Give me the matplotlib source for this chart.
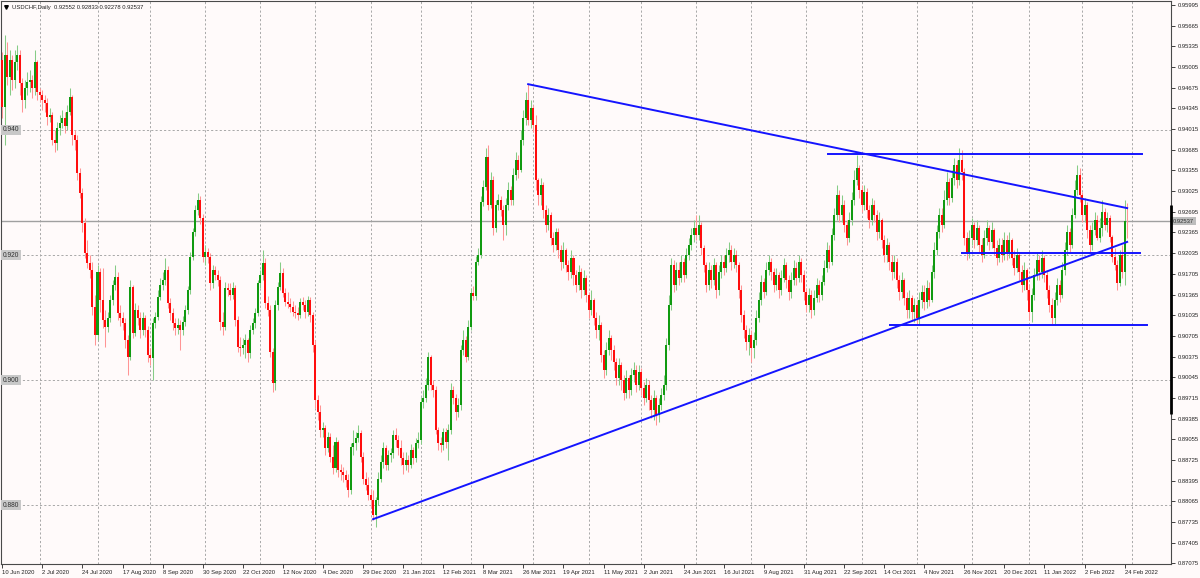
import matplotlib
matplotlib.use("Agg")
import matplotlib.pyplot as plt
import matplotlib.transforms as mtransforms
import numpy as np
import pandas as pd

plt.rcParams["font.family"] = ["Liberation Sans", "DejaVu Sans"]

symbol = "USDCHF,Daily"
last_ohlc = [0.92552, 0.92833, 0.92278, 0.92537]

# daily candles, 10 Jun 2020 .. 25 Feb 2022 (open = previous close)
first_open = 0.9512
closes = [
    0.9437, 0.9520, 0.9485, 0.9512, 0.9480, 0.9509, 0.9520, 0.9475, 0.9448, 0.9467,
    0.9477, 0.9480, 0.9467, 0.9509, 0.9461, 0.9456, 0.9448, 0.9443, 0.9421, 0.9424,
    0.9384, 0.9379, 0.9403, 0.9411, 0.9419, 0.9406, 0.9429, 0.9453, 0.9392, 0.9384,
    0.9331, 0.9299, 0.9251, 0.9203, 0.9187, 0.9176, 0.9117, 0.9072, 0.9173, 0.9128,
    0.9096, 0.9085, 0.9099, 0.9128, 0.9152, 0.9165, 0.9107, 0.9099, 0.9091, 0.9064,
    0.9037, 0.9149, 0.9075, 0.9112, 0.9099, 0.9080, 0.9099, 0.9080, 0.9040, 0.9035,
    0.9091, 0.9101, 0.9133, 0.9152, 0.9160, 0.9176, 0.9123, 0.9107, 0.9091, 0.9083,
    0.9088, 0.9080, 0.9093, 0.9112, 0.9144, 0.9197, 0.9237, 0.9272, 0.9288, 0.9259,
    0.9197, 0.9205, 0.9197, 0.9155, 0.9176, 0.9168, 0.9160, 0.9093, 0.9085, 0.9147,
    0.9144, 0.9136, 0.9147, 0.9096, 0.9053, 0.9051, 0.9056, 0.9064, 0.9043, 0.9080,
    0.9091, 0.9107, 0.9155, 0.9168, 0.9187, 0.9123, 0.9112, 0.9045, 0.8995, 0.9120,
    0.9149, 0.9171, 0.9139, 0.9125, 0.9122, 0.9117, 0.9109, 0.9107, 0.9104, 0.9125,
    0.9120, 0.9109, 0.9128, 0.9104, 0.9056, 0.8968, 0.8949, 0.8920, 0.8923, 0.8891,
    0.8909, 0.8877, 0.8859, 0.8901, 0.8856, 0.8853, 0.8848, 0.8840, 0.8824, 0.8893,
    0.8899, 0.8907, 0.8915, 0.8877, 0.8843, 0.8832, 0.8816, 0.8808, 0.8784, 0.8808,
    0.8843, 0.8869, 0.8891, 0.8864, 0.8880, 0.8883, 0.8912, 0.8904, 0.8891, 0.8875,
    0.8864, 0.8872, 0.8864, 0.8888, 0.8875, 0.8899, 0.8904, 0.8965, 0.8971, 0.8992,
    0.9037, 0.8992, 0.8984, 0.8920, 0.8899, 0.8896, 0.8917, 0.8901, 0.8920, 0.8984,
    0.8971, 0.8949, 0.8960, 0.9048, 0.9064, 0.9037, 0.9085, 0.9139, 0.9134, 0.9189,
    0.9200, 0.9285, 0.9309, 0.9357, 0.9280, 0.9320, 0.9243, 0.9280, 0.9288, 0.9272,
    0.9248, 0.9280, 0.9304, 0.9288, 0.9328, 0.9352, 0.9336, 0.9384, 0.9419, 0.9448,
    0.9416, 0.9435, 0.9408, 0.9320, 0.9296, 0.9312, 0.9272, 0.9248, 0.9264, 0.9227,
    0.9216, 0.9237, 0.9208, 0.9189, 0.9208, 0.9184, 0.9173, 0.9195, 0.9168, 0.9152,
    0.9173, 0.9144, 0.9163, 0.9136, 0.9112, 0.9128, 0.9099, 0.9080, 0.9088, 0.9040,
    0.9016, 0.9048, 0.9067, 0.9048, 0.9029, 0.9003, 0.9024, 0.9000, 0.8979, 0.9003,
    0.8984, 0.9008, 0.9016, 0.8992, 0.9013, 0.8987, 0.8971, 0.8992, 0.8968, 0.8952,
    0.8971, 0.8944, 0.8960, 0.8976, 0.8992, 0.9056, 0.9120, 0.9184, 0.9152, 0.9176,
    0.9163, 0.9189, 0.9168, 0.9200, 0.9216, 0.9232, 0.9243, 0.9232, 0.9248, 0.9211,
    0.9184, 0.9152, 0.9176, 0.9160, 0.9184, 0.9144, 0.9173, 0.9189, 0.9179, 0.9200,
    0.9208, 0.9189, 0.9200, 0.9184, 0.9144, 0.9104, 0.9080, 0.9061, 0.9072, 0.9051,
    0.9064, 0.9099, 0.9128, 0.9157, 0.9141, 0.9176, 0.9189, 0.9173, 0.9152, 0.9168,
    0.9144, 0.9163, 0.9184, 0.9160, 0.9141, 0.9160, 0.9179, 0.9163, 0.9189, 0.9168,
    0.9141, 0.9120, 0.9136, 0.9112, 0.9131, 0.9152, 0.9136, 0.9157, 0.9179, 0.9208,
    0.9189, 0.9232, 0.9264, 0.9296, 0.9264, 0.9280, 0.9248, 0.9227, 0.9256, 0.9288,
    0.9320, 0.9339, 0.9304, 0.9280, 0.9301, 0.9272, 0.9256, 0.9280, 0.9264, 0.9237,
    0.9256, 0.9224, 0.9200, 0.9216, 0.9189, 0.9173, 0.9189, 0.9160, 0.9141, 0.9160,
    0.9131, 0.9112, 0.9131, 0.9109, 0.9120, 0.9099, 0.9128, 0.9141, 0.9125, 0.9147,
    0.9128, 0.9173, 0.9208, 0.9237, 0.9264, 0.9248, 0.9288, 0.9317, 0.9291, 0.9323,
    0.9344, 0.9320, 0.9352, 0.9333, 0.9227, 0.9205, 0.9227, 0.9248, 0.9224, 0.9243,
    0.9216, 0.9200, 0.9227, 0.9243, 0.9221, 0.9240, 0.9211, 0.9195, 0.9216, 0.9200,
    0.9224, 0.9205, 0.9224, 0.9195, 0.9179, 0.9200, 0.9173, 0.9152, 0.9176, 0.9144,
    0.9109, 0.9136, 0.9168, 0.9192, 0.9173, 0.9195, 0.9168, 0.9144, 0.9120, 0.9099,
    0.9128, 0.9152, 0.9136, 0.9176, 0.9208, 0.9237, 0.9216, 0.9264, 0.9304, 0.9328,
    0.9296, 0.9264, 0.9280, 0.9240, 0.9216, 0.9240, 0.9256, 0.9227, 0.9243, 0.9269,
    0.9248, 0.9259, 0.9229, 0.9197, 0.9184, 0.9155, 0.9200, 0.9173, 0.92552, 0.92537,
]
highs = [
    0.9525, 0.9552, 0.9541, 0.9528, 0.9520, 0.9528, 0.9536, 0.9528, 0.9483, 0.9480,
    0.9493, 0.9496, 0.9488, 0.9528, 0.9512, 0.9467, 0.9464, 0.9456, 0.9451, 0.9435,
    0.9429, 0.9400, 0.9413, 0.9424, 0.9432, 0.9429, 0.9440, 0.9467, 0.9456, 0.9400,
    0.9392, 0.9339, 0.9307, 0.9259, 0.9224, 0.9200, 0.9189, 0.9136, 0.9184, 0.9179,
    0.9179, 0.9112, 0.9109, 0.9136, 0.9160, 0.9184, 0.9173, 0.9120, 0.9109, 0.9099,
    0.9072, 0.9160, 0.9152, 0.9123, 0.9120, 0.9109, 0.9109, 0.9104, 0.9086, 0.9051,
    0.9099, 0.9109, 0.9144, 0.9163, 0.9173, 0.9195, 0.9182, 0.9131, 0.9115, 0.9099,
    0.9099, 0.9096, 0.9102, 0.9120, 0.9150, 0.9205, 0.9243, 0.9280, 0.9299, 0.9294,
    0.9266, 0.9216, 0.9211, 0.9203, 0.9184, 0.9182, 0.9176, 0.9166, 0.9109, 0.9157,
    0.9155, 0.9155, 0.9157, 0.9152, 0.9102, 0.9069, 0.9067, 0.9074, 0.9067, 0.9088,
    0.9099, 0.9115, 0.9160, 0.9176, 0.9208, 0.9195, 0.9134, 0.9120, 0.9051, 0.9128,
    0.9157, 0.9189, 0.9179, 0.9147, 0.9141, 0.9131, 0.9126, 0.9120, 0.9117, 0.9131,
    0.9133, 0.9128, 0.9134, 0.9133, 0.9109, 0.9064, 0.8976, 0.8960, 0.8933, 0.8928,
    0.8917, 0.8915, 0.8896, 0.8910, 0.8904, 0.8866, 0.8862, 0.8856, 0.8850, 0.8899,
    0.8920, 0.8917, 0.8928, 0.8920, 0.8885, 0.8853, 0.8846, 0.8827, 0.8824, 0.8814,
    0.8853, 0.8880, 0.8901, 0.8896, 0.8888, 0.8891, 0.8920, 0.8923, 0.8912, 0.8904,
    0.8885, 0.8885, 0.8880, 0.8898, 0.8894, 0.8907, 0.8917, 0.8974, 0.8984, 0.9003,
    0.9045, 0.9040, 0.9000, 0.8990, 0.8926, 0.8910, 0.8923, 0.8923, 0.8930, 0.8995,
    0.8990, 0.8978, 0.8971, 0.9056, 0.9080, 0.9070, 0.9096, 0.9147, 0.9150, 0.9198,
    0.9211, 0.9294, 0.9320, 0.9371, 0.9376, 0.9333, 0.9326, 0.9288, 0.9298, 0.9294,
    0.9280, 0.9291, 0.9317, 0.9310, 0.9339, 0.9365, 0.9360, 0.9400, 0.9432, 0.9461,
    0.9474, 0.9448, 0.9440, 0.9424, 0.9323, 0.9323, 0.9317, 0.9280, 0.9275, 0.9269,
    0.9237, 0.9243, 0.9243, 0.9216, 0.9221, 0.9211, 0.9192, 0.9208, 0.9200, 0.9176,
    0.9184, 0.9179, 0.9176, 0.9168, 0.9141, 0.9144, 0.9131, 0.9109, 0.9104, 0.9093,
    0.9048, 0.9061, 0.9080, 0.9072, 0.9056, 0.9035, 0.9035, 0.9029, 0.9008, 0.9016,
    0.9008, 0.9019, 0.9029, 0.9024, 0.9024, 0.9019, 0.8997, 0.9003, 0.9000, 0.8976,
    0.8984, 0.8976, 0.8971, 0.8987, 0.9008, 0.9067, 0.9136, 0.9195, 0.9192, 0.9189,
    0.9189, 0.9200, 0.9195, 0.9211, 0.9227, 0.9243, 0.9256, 0.9264, 0.9264, 0.9253,
    0.9216, 0.9189, 0.9189, 0.9184, 0.9195, 0.9189, 0.9184, 0.9200, 0.9200, 0.9211,
    0.9221, 0.9216, 0.9211, 0.9208, 0.9189, 0.9152, 0.9112, 0.9088, 0.9083, 0.9080,
    0.9077, 0.9112, 0.9141, 0.9168, 0.9163, 0.9189, 0.9200, 0.9195, 0.9179, 0.9179,
    0.9173, 0.9176, 0.9195, 0.9189, 0.9168, 0.9173, 0.9192, 0.9189, 0.9200, 0.9195,
    0.9176, 0.9147, 0.9147, 0.9144, 0.9144, 0.9163, 0.9160, 0.9168, 0.9192, 0.9221,
    0.9216, 0.9243, 0.9275, 0.9312, 0.9304, 0.9296, 0.9288, 0.9256, 0.9269, 0.9301,
    0.9336, 0.9360, 0.9344, 0.9312, 0.9312, 0.9307, 0.9280, 0.9291, 0.9288, 0.9272,
    0.9269, 0.9259, 0.9232, 0.9227, 0.9221, 0.9200, 0.9200, 0.9195, 0.9168, 0.9173,
    0.9163, 0.9141, 0.9144, 0.9136, 0.9131, 0.9128, 0.9141, 0.9152, 0.9152, 0.9160,
    0.9157, 0.9184, 0.9221, 0.9248, 0.9275, 0.9275, 0.9304, 0.9333, 0.9323, 0.9336,
    0.9355, 0.9352, 0.9371, 0.9368, 0.9339, 0.9237, 0.9240, 0.9259, 0.9253, 0.9256,
    0.9248, 0.9227, 0.9240, 0.9256, 0.9248, 0.9253, 0.9243, 0.9224, 0.9227, 0.9227,
    0.9237, 0.9232, 0.9237, 0.9227, 0.9208, 0.9211, 0.9205, 0.9184, 0.9189, 0.9179,
    0.9152, 0.9147, 0.9179, 0.9205, 0.9200, 0.9208, 0.9200, 0.9176, 0.9152, 0.9131,
    0.9141, 0.9163, 0.9160, 0.9189, 0.9221, 0.9248, 0.9243, 0.9275, 0.9320, 0.9344,
    0.9339, 0.9301, 0.9291, 0.9285, 0.9248, 0.9253, 0.9269, 0.9264, 0.9259, 0.9288,
    0.9275, 0.9269, 0.9264, 0.9232, 0.9211, 0.9192, 0.9208, 0.9216, 0.9288, 0.92833,
]
lows = [
    0.9419, 0.9376, 0.9472, 0.9456, 0.9464, 0.9467, 0.9496, 0.9456, 0.9429, 0.9435,
    0.9456, 0.9461, 0.9451, 0.9456, 0.9448, 0.9445, 0.9432, 0.9429, 0.9408, 0.9413,
    0.9376, 0.9365, 0.9368, 0.9392, 0.9403, 0.9395, 0.9400, 0.9424, 0.9376, 0.9368,
    0.9320, 0.9291, 0.9237, 0.9195, 0.9179, 0.9163, 0.9104, 0.9056, 0.9064, 0.9109,
    0.9083, 0.9053, 0.9077, 0.9093, 0.9120, 0.9144, 0.9096, 0.9086, 0.9080, 0.9051,
    0.9008, 0.9032, 0.9067, 0.9070, 0.9088, 0.9067, 0.9072, 0.9069, 0.9029, 0.9024,
    0.9000, 0.9083, 0.9096, 0.9128, 0.9144, 0.9152, 0.9115, 0.9096, 0.9080, 0.9072,
    0.9074, 0.9048, 0.9072, 0.9086, 0.9106, 0.9138, 0.9192, 0.9230, 0.9264, 0.9250,
    0.9189, 0.9184, 0.9187, 0.9144, 0.9147, 0.9160, 0.9150, 0.9080, 0.9072, 0.9080,
    0.9134, 0.9128, 0.9130, 0.9086, 0.9045, 0.9038, 0.9042, 0.9035, 0.9029, 0.9035,
    0.9074, 0.9083, 0.9102, 0.9147, 0.9160, 0.9115, 0.9102, 0.9037, 0.8981, 0.8984,
    0.9112, 0.9144, 0.9133, 0.9118, 0.9115, 0.9109, 0.9102, 0.9099, 0.9096, 0.9099,
    0.9112, 0.9099, 0.9102, 0.9093, 0.9045, 0.8955, 0.8936, 0.8910, 0.8910, 0.8880,
    0.8885, 0.8869, 0.8850, 0.8853, 0.8846, 0.8840, 0.8837, 0.8830, 0.8814, 0.8818,
    0.8880, 0.8888, 0.8901, 0.8869, 0.8834, 0.8824, 0.8808, 0.8798, 0.8776, 0.8766,
    0.8800, 0.8837, 0.8859, 0.8856, 0.8856, 0.8869, 0.8875, 0.8894, 0.8880, 0.8864,
    0.8850, 0.8856, 0.8853, 0.8859, 0.8866, 0.8869, 0.8891, 0.8898, 0.8955, 0.8965,
    0.8984, 0.8984, 0.8974, 0.8914, 0.8888, 0.8885, 0.8888, 0.8891, 0.8872, 0.8914,
    0.8962, 0.8936, 0.8942, 0.8952, 0.9040, 0.9029, 0.9032, 0.9080, 0.9128, 0.9128,
    0.9184, 0.9195, 0.9278, 0.9304, 0.9272, 0.9275, 0.9232, 0.9237, 0.9272, 0.9262,
    0.9224, 0.9232, 0.9272, 0.9280, 0.9280, 0.9320, 0.9323, 0.9333, 0.9376, 0.9408,
    0.9408, 0.9403, 0.9397, 0.9304, 0.9280, 0.9280, 0.9259, 0.9237, 0.9240, 0.9216,
    0.9205, 0.9208, 0.9195, 0.9176, 0.9179, 0.9173, 0.9160, 0.9163, 0.9152, 0.9141,
    0.9144, 0.9131, 0.9136, 0.9125, 0.9099, 0.9104, 0.9088, 0.9067, 0.9064, 0.9029,
    0.9003, 0.9008, 0.9040, 0.9032, 0.9016, 0.8992, 0.8992, 0.8984, 0.8968, 0.8971,
    0.8971, 0.8976, 0.8997, 0.8981, 0.8984, 0.8976, 0.8960, 0.8965, 0.8952, 0.8939,
    0.8936, 0.8928, 0.8933, 0.8952, 0.8968, 0.8984, 0.9048, 0.9112, 0.9141, 0.9144,
    0.9152, 0.9157, 0.9157, 0.9163, 0.9192, 0.9208, 0.9221, 0.9224, 0.9224, 0.9200,
    0.9173, 0.9141, 0.9144, 0.9147, 0.9152, 0.9131, 0.9136, 0.9163, 0.9168, 0.9173,
    0.9189, 0.9176, 0.9179, 0.9173, 0.9131, 0.9093, 0.9067, 0.9048, 0.9040, 0.9029,
    0.9035, 0.9056, 0.9093, 0.9120, 0.9131, 0.9136, 0.9168, 0.9160, 0.9141, 0.9144,
    0.9131, 0.9136, 0.9157, 0.9147, 0.9128, 0.9131, 0.9152, 0.9152, 0.9157, 0.9157,
    0.9128, 0.9109, 0.9109, 0.9099, 0.9104, 0.9125, 0.9125, 0.9128, 0.9152, 0.9173,
    0.9179, 0.9184, 0.9224, 0.9256, 0.9253, 0.9253, 0.9237, 0.9216, 0.9221, 0.9248,
    0.9280, 0.9312, 0.9291, 0.9269, 0.9272, 0.9259, 0.9243, 0.9248, 0.9253, 0.9224,
    0.9227, 0.9211, 0.9189, 0.9189, 0.9176, 0.9160, 0.9163, 0.9147, 0.9128, 0.9131,
    0.9120, 0.9099, 0.9099, 0.9096, 0.9093, 0.9088, 0.9088, 0.9115, 0.9112, 0.9115,
    0.9118, 0.9125, 0.9163, 0.9200, 0.9227, 0.9237, 0.9243, 0.9280, 0.9280, 0.9285,
    0.9312, 0.9307, 0.9312, 0.9320, 0.9216, 0.9192, 0.9195, 0.9216, 0.9211, 0.9216,
    0.9205, 0.9189, 0.9195, 0.9216, 0.9208, 0.9211, 0.9200, 0.9184, 0.9189, 0.9189,
    0.9192, 0.9192, 0.9195, 0.9184, 0.9168, 0.9173, 0.9160, 0.9141, 0.9144, 0.9128,
    0.9096, 0.9093, 0.9128, 0.9160, 0.9160, 0.9163, 0.9157, 0.9131, 0.9109, 0.9088,
    0.9088, 0.9120, 0.9125, 0.9131, 0.9168, 0.9200, 0.9205, 0.9211, 0.9259, 0.9296,
    0.9285, 0.9253, 0.9253, 0.9227, 0.9205, 0.9208, 0.9232, 0.9224, 0.9221, 0.9230,
    0.9240, 0.9237, 0.9221, 0.9189, 0.9176, 0.9144, 0.9150, 0.9163, 0.9152, 0.92278,
]

# broker calendar: weekdays, two closed days, a few extra sunday bars
holidays = ["2020-12-25", "2021-01-01"]
sunday_bars = ["2020-11-01", "2021-03-14", "2021-03-21", "2021-10-31"]

date_labels = [
    "10 Jun 2020", "2 Jul 2020", "24 Jul 2020", "17 Aug 2020", "8 Sep 2020",
    "30 Sep 2020", "22 Oct 2020", "12 Nov 2020", "4 Dec 2020", "29 Dec 2020",
    "21 Jan 2021", "12 Feb 2021", "8 Mar 2021", "26 Mar 2021", "19 Apr 2021",
    "11 May 2021", "2 Jun 2021", "24 Jun 2021", "16 Jul 2021", "9 Aug 2021",
    "31 Aug 2021", "22 Sep 2021", "14 Oct 2021", "4 Nov 2021", "26 Nov 2021",
    "20 Dec 2021", "11 Jan 2022", "2 Feb 2022", "24 Feb 2022",
]
price_ticks = [
    0.95995, 0.95665, 0.95335, 0.95005, 0.94675, 0.94345, 0.94015, 0.93685,
    0.93355, 0.93025, 0.92695, 0.92365, 0.92035, 0.91705, 0.91365, 0.91035,
    0.90705, 0.90375, 0.90045, 0.89715, 0.89385, 0.89055, 0.88725, 0.88395,
    0.88065, 0.87735, 0.87405, 0.87075,
]
grid_prices = [0.940, 0.920, 0.900, 0.880]

# drawn objects: (bar, price) end points
resistance = [(209.9, 0.9473), (449.0, 0.9275)]
support = [(148.0, 0.8778), (449.0, 0.9221)]
# horizontal levels: (price, from bar, to bar)
levels = [(0.9362, 329.6, 455.0), (0.9203, 383.1, 454.0), (0.9088, 354.4, 457.0)]

bg = "#fffafa"
grid_col = "#a8a8a8"
up_body, dn_body = "#109a10", "#ff0d0d"
up_wick, dn_wick = "#86cc86", "#ff9494"
line_blue = "#1414ff"

closes = np.array(closes)
highs = np.array(highs)
lows = np.array(lows)
opens = np.r_[first_open, closes[:-1]]
x = np.arange(len(closes))
up = closes >= opens

days = pd.bdate_range("2020-06-10", "2022-02-25")
days = days.drop(pd.to_datetime(holidays)).union(pd.to_datetime(sunday_bars))
future = pd.bdate_range("2022-02-28", "2022-03-31")
all_days = days.append(future)
month_starts = np.flatnonzero(np.diff(all_days.month) != 0) + 1

fig = plt.figure(figsize=(12, 5.78), dpi=100, facecolor=bg)
ax = fig.add_axes([1 / 1200, 14 / 578, 1170 / 1200, 563 / 578])
ax.set_facecolor(bg)
ax.set_xlim(-0.52, 466.5)
ax.set_ylim(0.87064, 0.96059)

dash = (0, (2.2, 2.2))
for p in grid_prices:
    ax.axhline(p, color=grid_col, lw=0.7, ls=dash, zorder=0.5)
for m in month_starts:
    ax.axvline(m, color=grid_col, lw=0.7, ls=dash, zorder=0.5)

ax.axhline(last_ohlc[3], color="#a0a0a0", lw=1.0, zorder=0.8)

# candles
ax.vlines(x[up], lows[up], highs[up], color=up_wick, lw=0.75, zorder=2)
ax.vlines(x[~up], lows[~up], highs[~up], color=dn_wick, lw=0.75, zorder=2)
ax.bar(x[up], closes[up] - opens[up], bottom=opens[up], width=0.8,
       color=up_body, linewidth=0, zorder=3)
ax.bar(x[~up], closes[~up] - opens[~up], bottom=opens[~up], width=0.8,
       color=dn_body, linewidth=0, zorder=3)

for (x0, y0), (x1, y1) in [resistance, support]:
    ax.plot([x0, x1], [y0, y1], color=line_blue, lw=1.4, zorder=4)
for p, b0, b1 in levels:
    ax.plot([b0, b1], [p, p], color=line_blue, lw=1.4, zorder=4)

# axes look
for s in ax.spines.values():
    s.set_color("#4a4a4a")
    s.set_linewidth(0.8)
ax.yaxis.tick_right()
ax.set_yticks(price_ticks)
ax.set_yticklabels([f"{p:.5f}" for p in price_ticks])
ax.tick_params(axis="y", length=3, width=0.6, pad=1.5, labelsize=4.2,
               colors="#222222")
ax.set_xticks(np.arange(0, len(closes), 16))
ax.set_xticklabels(date_labels, ha="left")
ax.tick_params(axis="x", length=3, width=0.6, pad=1.2, labelsize=4.2,
               colors="#222222")

blend = mtransforms.blended_transform_factory(ax.transAxes, ax.transData)
for p in grid_prices:
    ax.text(0.0015, p, f"{p:.3f}", transform=blend, ha="left", va="center",
            fontsize=4.8, color="#303030", zorder=5,
            bbox=dict(boxstyle="square,pad=0.22", fc="#c8c8c8", ec="none"))

ax.text(1.0 + 2 / 1170, last_ohlc[3], f"{last_ohlc[3]:.5f}", transform=blend,
        ha="left", va="center", fontsize=4.2, color="#303030", zorder=6,
        clip_on=False,
        bbox=dict(boxstyle="square,pad=0.25", fc="#bdbdbd", ec="none"))
ax.plot([1.0, 1.0], [0.9280, 0.8946], transform=blend, color="black", lw=2.0,
        solid_capstyle="butt", clip_on=False, zorder=6)

ax.plot([5 / 1170], [1 - 6 / 563], marker="v", ms=2.6, color="black",
        transform=ax.transAxes, clip_on=False)
header = symbol + "  " + " ".join(f"{v:.5f}" for v in last_ohlc)
ax.text(11 / 1170, 1 - 6 / 563, header, transform=ax.transAxes, ha="left",
        va="center", fontsize=4.2, color="#222222")

fig.savefig("out.png", dpi=100, facecolor=bg)
